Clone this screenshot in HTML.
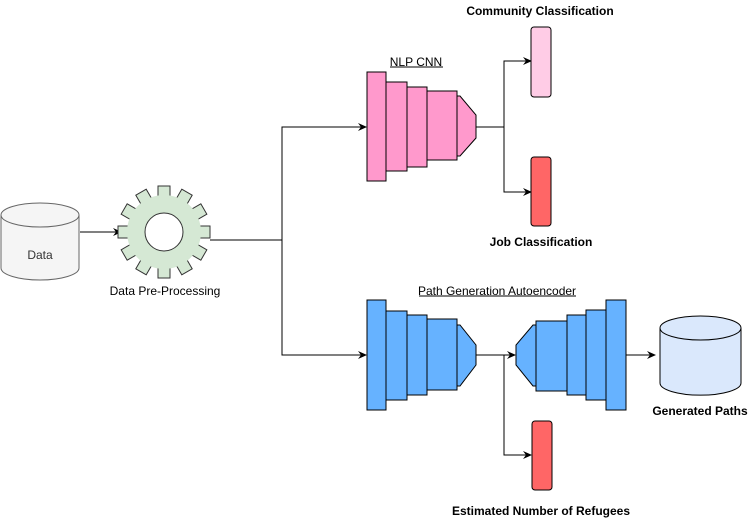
<!DOCTYPE html>
<html><head><style>
body{margin:0;background:#fff;}
svg text{font-family:"Liberation Sans",Arial,sans-serif;font-size:12px;}
</style></head><body>
<svg width="756" height="521" viewBox="0 0 756 521" xmlns="http://www.w3.org/2000/svg">
<defs>
<marker id="a" markerWidth="10" markerHeight="10" refX="8" refY="5" orient="auto" markerUnits="userSpaceOnUse">
<path d="M0,1 L9,5 L0,9 L3,5 Z" fill="#000"/>
</marker>
</defs>
<!-- Data cylinder -->
<g stroke="#666" stroke-width="1" fill="#f5f5f5">
<path d="M1,215 L1,268 A39,12 0 0 0 79,268 L79,215"/>
<ellipse cx="40" cy="215" rx="39" ry="12"/>
</g>
<text x="40" y="259" text-anchor="middle" fill="#333">Data</text>
<line x1="80" y1="232" x2="121" y2="232" stroke="#000" marker-end="url(#a)"/>
<!-- gear -->
<g transform="translate(164,232)" fill="#d5e8d4" stroke="#333" stroke-width="1">
<g id="t">
<rect x="-6" y="-46" width="12" height="12"/>
</g>
<use href="#t" transform="rotate(30)"/><use href="#t" transform="rotate(60)"/><use href="#t" transform="rotate(90)"/>
<use href="#t" transform="rotate(120)"/><use href="#t" transform="rotate(150)"/><use href="#t" transform="rotate(180)"/>
<use href="#t" transform="rotate(210)"/><use href="#t" transform="rotate(240)"/><use href="#t" transform="rotate(270)"/>
<use href="#t" transform="rotate(300)"/><use href="#t" transform="rotate(330)"/>
<circle r="37" stroke="none"/>
<circle r="19" fill="#fff"/>
</g>
<text x="165" y="295" text-anchor="middle" fill="#000">Data Pre-Processing</text>
<!-- connectors -->
<g stroke="#000" fill="none">
<polyline points="210,240 282,240"/>
<polyline points="282,355 282,127 366,127" marker-end="url(#a)"/>
<polyline points="282,240 282,355 366,355" marker-end="url(#a)"/>
<polyline points="476,127 504,127"/>
<polyline points="504,127 504,61 531,61" marker-end="url(#a)"/>
<polyline points="504,127 504,192 531,192" marker-end="url(#a)"/>
<polyline points="476,355 515,355" marker-end="url(#a)"/>
<polyline points="504,355 504,455 531,455" marker-end="url(#a)"/>
<polyline points="626,355 655,355" marker-end="url(#a)"/>
</g>
<!-- NLP CNN -->
<g fill="#ff99cc" stroke="#000">
<rect x="367" y="72" width="19" height="109"/>
<rect x="386" y="82" width="21" height="89"/>
<rect x="407" y="87" width="20" height="80"/>
<rect x="427" y="91" width="30" height="69"/>
<polygon points="457,96 460,96 476,115 476,138 460,156 457,156"/>
</g>
<text x="416" y="66" text-anchor="middle">NLP CNN</text>
<line x1="390" y1="67" x2="443" y2="67" stroke="#000"/>
<rect x="531" y="27" width="20" height="70" rx="3" fill="#ffcce6" stroke="#000"/>
<rect x="531" y="157" width="20" height="69" rx="3" fill="#ff6666" stroke="#000"/>
<text x="540" y="15" text-anchor="middle" font-weight="bold">Community Classification</text>
<text x="541" y="246" text-anchor="middle" font-weight="bold">Job Classification</text>
<!-- Autoencoder -->
<g fill="#66b2ff" stroke="#000">
<rect x="367" y="300" width="19" height="110"/>
<rect x="386" y="311" width="21" height="89"/>
<rect x="407" y="315" width="20" height="80"/>
<rect x="427" y="319" width="30" height="71"/>
<polygon points="457,325 460,325 476,345 476,365 460,386 457,386"/>
<polygon points="536,325 533,325 516,345 516,365 533,386 536,386"/>
<rect x="536" y="321" width="31" height="70"/>
<rect x="567" y="315" width="19" height="80"/>
<rect x="586" y="310" width="20" height="90"/>
<rect x="606" y="300" width="20" height="110"/>
</g>
<text x="497" y="295" text-anchor="middle">Path Generation Autoencoder</text>
<line x1="419" y1="296" x2="576" y2="296" stroke="#000"/>
<g stroke="#000" fill="#dae8fc">
<path d="M660,328 L660,383 A40,12 0 0 0 741,383 L741,328"/>
<ellipse cx="700.5" cy="328" rx="40.5" ry="12"/>
</g>
<text x="700" y="415" text-anchor="middle" font-weight="bold">Generated Paths</text>
<rect x="532" y="421" width="20" height="69" rx="3" fill="#ff6666" stroke="#000"/>
<text x="541" y="515" text-anchor="middle" font-weight="bold">Estimated Number of Refugees</text>
</svg>
</body></html>
